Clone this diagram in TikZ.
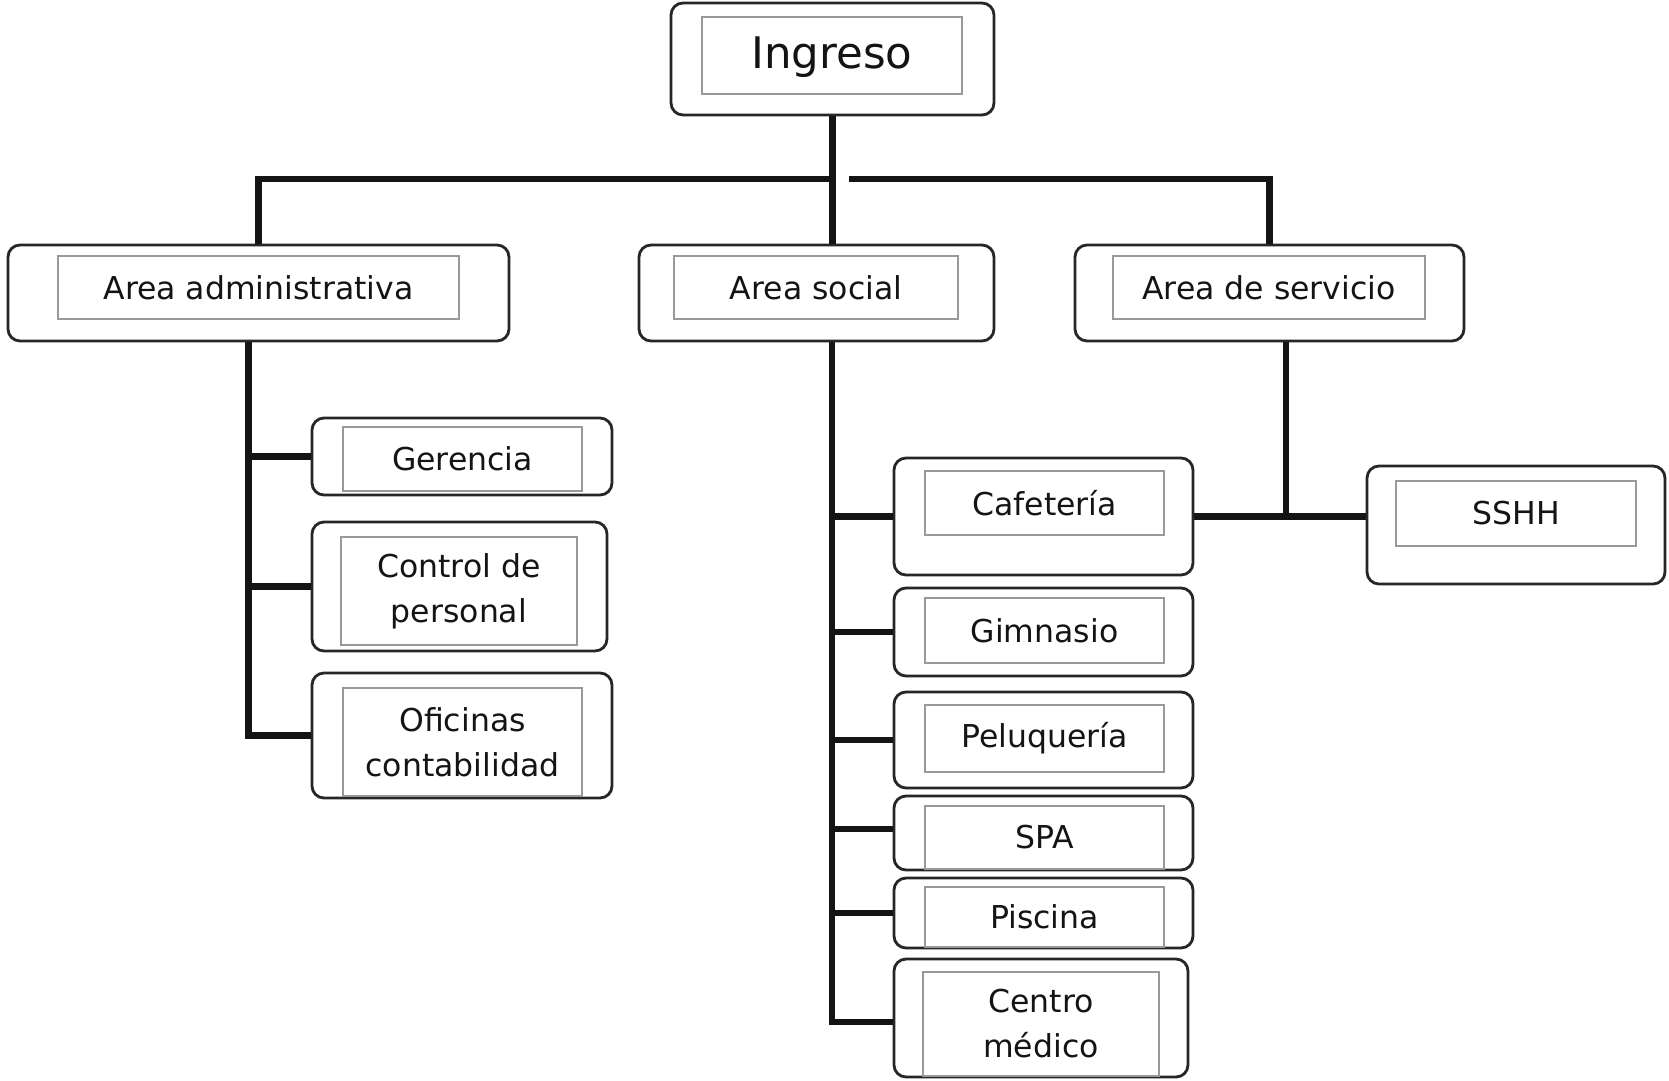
\documentclass[tikz,border=0pt]{standalone}
\usepackage{fontspec}
\setmainfont{DejaVu Sans}
\usetikzlibrary{fit}
\begin{document}
\begin{tikzpicture}[x=1pt,y=-1pt,
 outbox/.style={draw=black!85, line width=2.8pt, rounded corners=12pt, inner sep=0pt, fill=white},
 inbox/.style={draw=black!40, line width=1.3pt, inner sep=0pt},
 txt/.style={font=\fontsize{31.5}{45}\selectfont, align=center, text=black!92},
 bigtxt/.style={font=\fontsize{43.5}{50}\selectfont, text=black!92, yshift=-2pt},
 conn/.style={line width=6.5pt, draw=black!92}]
\useasboundingbox[fill=white] (0,0) rectangle (1669,1080);

% top level
\node[outbox, fit={(671,3) (994,115)}] (ing) {};
\node[inbox, fit={(702,17) (962,94)}, label={[bigtxt]center:Ingreso}] (ingT) {};

% second level
\node[outbox, fit={(8,245) (509,341)}] (adm) {};
\node[inbox, fit={(58,256) (459,319)}, label={[txt]center:Area administrativa}] (admT) {};
\node[outbox, fit={(639,245) (994,341)}] (soc) {};
\node[inbox, fit={(674,256) (958,319)}, label={[txt]center:Area social}] (socT) {};
\node[outbox, fit={(1075,245) (1464,341)}] (srv) {};
\node[inbox, fit={(1113,256) (1425,319)}, label={[txt]center:Area de servicio}] (srvT) {};

% administrative branch
\node[outbox, fit={(312,418) (612,495)}] (ger) {};
\node[inbox, fit={(343,427) (582,491)}, label={[txt]center:Gerencia}] (gerT) {};
\node[outbox, fit={(312,522) (607,651)}] (con) {};
\node[inbox, fit={(341,537) (577,645)}, label={[txt]center:{Control de\\personal}}] (conT) {};
\node[outbox, fit={(312,673) (612,798)}] (ofi) {};
\node[inbox, fit={(343,688) (582,796)}, label={[txt]center:{Oficinas\\contabilidad}}] (ofiT) {};

% social branch
\node[outbox, fit={(894,458) (1193,575)}] (caf) {};
\node[inbox, fit={(925,471) (1164,535)}, label={[txt]center:Cafetería}] (cafT) {};
\node[outbox, fit={(894,588) (1193,676)}] (gim) {};
\node[inbox, fit={(925,598) (1164,663)}, label={[txt]center:Gimnasio}] (gimT) {};
\node[outbox, fit={(894,692) (1193,788)}] (pel) {};
\node[inbox, fit={(925,705) (1164,772)}, label={[txt]center:Peluquería}] (pelT) {};
\node[outbox, fit={(894,796) (1193,870)}] (spa) {};
\node[inbox, fit={(925,806) (1164,869)}, label={[txt]center:SPA}] (spaT) {};
\node[outbox, fit={(894,878) (1193,948)}] (pis) {};
\node[inbox, fit={(925,887) (1164,947)}, label={[txt]center:Piscina}] (pisT) {};
\node[outbox, fit={(894,959) (1188,1077)}] (cen) {};
\node[inbox, fit={(923,972) (1159,1076)}, label={[txt]center:{Centro\\médico}}] (cenT) {};

% service branch
\node[outbox, fit={(1367,466) (1665,584)}] (ssh) {};
\node[inbox, fit={(1396,481) (1636,546)}, label={[txt]center:SSHH}] (sshT) {};

% connectors
\coordinate (barL) at (832.5,179);
\coordinate (barR) at (849,179);
\draw[conn] (ing.south) -- (ing.south |- soc.north);
\draw[conn] (barL) -| (adm.north);
\draw[conn] (barR) -| (srv.north);

\coordinate (admv) at ([xshift=-10pt]adm.south);
\draw[conn] (admv) |- (ofi.west);
\draw[conn] (ger.west) -- (ger.west -| admv);
\draw[conn] (con.west) -- (con.west -| admv);

\coordinate (socv) at ([xshift=15.5pt]soc.south);
\draw[conn] (socv) |- ([yshift=-4pt]cen.west);
\draw[conn] (caf.west) -- (caf.west -| socv);
\draw[conn] (gim.west) -- (gim.west -| socv);
\draw[conn] (pel.west) -- (pel.west -| socv);
\draw[conn] ([yshift=4pt]spa.west) -- ([yshift=4pt]spa.west -| socv);
\draw[conn] (pis.west) -- (pis.west -| socv);

\coordinate (srvv) at ([xshift=16.5pt]srv.south);
\draw[conn] (caf.east) -- (caf.east -| ssh.west);
\draw[conn] (srvv) -- (srvv |- caf.east);
\end{tikzpicture}
\end{document}
